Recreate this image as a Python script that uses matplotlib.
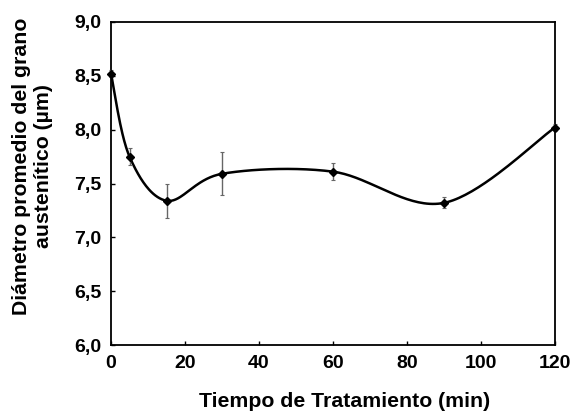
import numpy as np
import matplotlib
matplotlib.use("Agg")
import matplotlib.pyplot as plt

tiempo = [0, 5, 15, 30, 60, 90, 120]
diametro = [8.52, 7.75, 7.34, 7.59, 7.61, 7.32, 8.02]
error = [0.03, 0.08, 0.16, 0.20, 0.08, 0.05, 0.03]
xticks = [0, 20, 40, 60, 80, 100, 120]
yticks = [6.0, 6.5, 7.0, 7.5, 8.0, 8.5, 9.0]

plt.rcParams['font.family'] = ['Liberation Sans', 'DejaVu Sans']
plt.rcParams['font.weight'] = 'bold'

fig = plt.figure(figsize=(5.73, 4.15), dpi=100)
ax = fig.add_axes([111/573, 1-345/415, (555-111)/573, (345-22)/415])
ax.set_xlim(0, 120)
ax.set_ylim(6.0, 9.0)

# Catmull-Rom (Excel-style) smoothing in display-normalized coordinates
x = np.array(tiempo, float)
y = np.array(diametro, float)
sx, sy = 1/120*444, 1/3*324
px, py = x*sx, y*sy
P = np.column_stack([px, py])
pts = []
n = len(P)
for i in range(n-1):
    p0 = P[i-1] if i > 0 else P[i]
    p1 = P[i]
    p2 = P[i+1]
    p3 = P[i+2] if i+2 < n else P[i+1]
    c1 = p1 + (p2 - p0)/6
    c2 = p2 - (p3 - p1)/6
    t = np.linspace(0, 1, 40)[:, None]
    seg = (1-t)**3*p1 + 3*(1-t)**2*t*c1 + 3*(1-t)*t**2*c2 + t**3*p2
    pts.append(seg)
curve = np.vstack(pts)
ax.plot(curve[:, 0]/sx, curve[:, 1]/sy, color='black', lw=1.8, zorder=3)

ax.errorbar(tiempo, diametro, yerr=error, fmt='D', color='black', ms=4.5,
            ecolor='#666666', elinewidth=1, capsize=1.5, capthick=0.8, zorder=4,
            clip_on=False)

ax.set_xticks(xticks)
ax.set_xticklabels([str(v) for v in xticks])
ax.set_yticks(yticks)
ax.set_yticklabels([f"{v:.1f}".replace('.', ',') for v in yticks])
ax.tick_params(direction='in', length=3, width=1, labelsize=14, pad=7)
for lab in ax.get_xticklabels() + ax.get_yticklabels():
    lab.set_fontweight('bold')
for s in ax.spines.values():
    s.set_linewidth(1.3)

ax.set_xlabel('Tiempo de Tratamiento (min)', fontsize=15.3, fontweight='bold')
ax.xaxis.set_label_coords(0.527, -0.145)
ax.set_ylabel('Diámetro promedio del grano\naustenítico (µm)', fontsize=15.3,
              fontweight='bold', linespacing=1.2)
ax.yaxis.set_label_coords(-0.13, 0.554)

fig.savefig('out.png', dpi=100)
